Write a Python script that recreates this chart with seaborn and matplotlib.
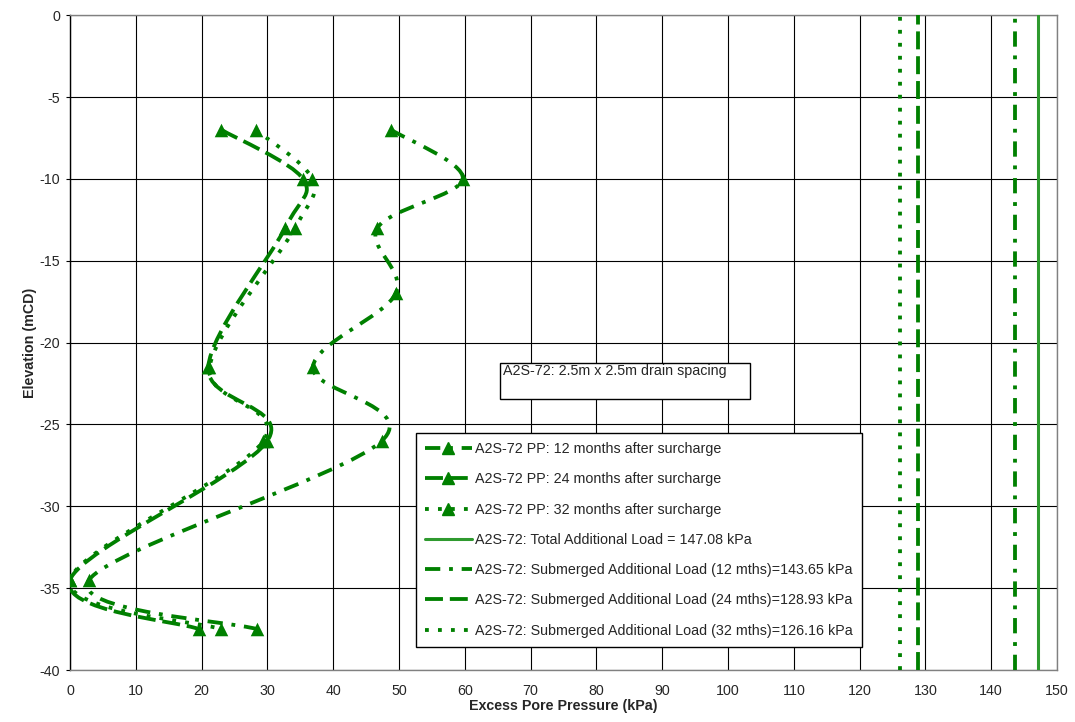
import numpy as np
import matplotlib
matplotlib.use('Agg')
import matplotlib.pyplot as plt
import seaborn as sns
from matplotlib.path import Path
from matplotlib.patches import PathPatch, Rectangle
from matplotlib.lines import Line2D

# 데이터
elev_12 = [-7, -10, -13, -17, -21.5, -26, -34.5, -37.5]
pp_12 = [48.8, 59.7, 46.7, 49.5, 36.9, 47.4, 2.9, 28.4]
elev_24 = [-7, -10, -13, -21.5, -26, -34.5, -37.5]
pp_24 = [23.0, 35.4, 32.7, 21.0, 30.0, 0.0, 19.6]
elev_32 = [-7, -10, -13, -21.5, -26, -34.5, -37.5]
pp_32 = [28.2, 36.8, 34.2, 21.2, 29.4, 0.0, 23.0]

load_total = 147.08
load_12 = 143.65
load_24 = 128.93
load_32 = 126.16

labels_pp = ['A2S-72 PP: 12 months after surcharge',
             'A2S-72 PP: 24 months after surcharge',
             'A2S-72 PP: 32 months after surcharge']
label_total = 'A2S-72: Total Additional Load = 147.08 kPa'
labels_sub = ['A2S-72: Submerged Additional Load (12 mths)=143.65 kPa',
              'A2S-72: Submerged Additional Load (24 mths)=128.93 kPa',
              'A2S-72: Submerged Additional Load (32 mths)=126.16 kPa']

sns.set_theme(style='white')
plt.rcParams['font.family'] = ['Liberation Sans', 'DejaVu Sans']
plt.rcParams['axes.unicode_minus'] = False  # 마이너스 기호를 하이픈으로

GREEN = '#008000'
LW = 2.75
dash_12 = (0, (4.0, 2.3, 1.0, 2.3))
dash_24 = (0, (4.7, 1.8))
dash_32 = (0, (1.0, 2.4))
FS = 10.3


def smooth_path(xs, ys):
    # 엑셀 스타일 부드러운 선 (베지어 곡선)
    pts = np.column_stack([xs, ys]).astype(float)
    n = len(pts)
    verts = [pts[0]]
    codes = [Path.MOVETO]
    for i in range(n - 1):
        p0 = pts[max(i - 1, 0)]
        p1 = pts[i]
        p2 = pts[i + 1]
        p3 = pts[min(i + 2, n - 1)]
        verts += [p1 + (p2 - p0) / 6, p2 - (p3 - p1) / 6, p2]
        codes += [Path.CURVE4] * 3
    return Path(verts, codes)


fig = plt.figure(figsize=(10.75, 7.22), dpi=100)
ax = fig.add_axes([0.0651, 0.072, 0.9182, 0.907])

series = [(pp_12, elev_12, dash_12), (pp_24, elev_24, dash_24), (pp_32, elev_32, dash_32)]
for xs, ys, ls in series:
    ax.add_patch(PathPatch(smooth_path(xs, ys), fill=False, edgecolor=GREEN,
                           lw=LW, linestyle=ls, zorder=3))
    sns.scatterplot(x=xs, y=ys, marker='^', s=95, color=GREEN, edgecolor=GREEN,
                    linewidth=0, ax=ax, zorder=4)

ax.axvline(load_total, color='#2f9a2f', lw=2.2, zorder=3)
ax.axvline(load_12, color=GREEN, lw=LW, linestyle=dash_12, zorder=3)
ax.axvline(load_24, color=GREEN, lw=LW, linestyle=dash_24, zorder=3)
ax.axvline(load_32, color=GREEN, lw=LW, linestyle=dash_32, zorder=3)

ax.set_xlim(0, 150)
ax.set_ylim(-40, 0)
ax.set_xticks(np.arange(0, 151, 10))
ax.set_yticks(np.arange(-40, 1, 5))
ax.grid(True, color='black', lw=0.8)
ax.set_axisbelow(True)
for side in ['top', 'right', 'bottom']:
    ax.spines[side].set_color('#808080')
ax.spines['left'].set_color('black')
for s in ax.spines.values():
    s.set_linewidth(1.0)
ax.tick_params(axis='x', length=0, pad=10, labelsize=FS)
ax.tick_params(axis='y', left=True, length=3, width=0.8, color='black', pad=4, labelsize=FS)

ax.set_xlabel('Excess Pore Pressure (kPa)', fontsize=FS, fontweight='bold', labelpad=1)
ax.set_ylabel('Elevation (mCD)', fontsize=FS, fontweight='bold', labelpad=2)

# 텍스트 상자
ax.add_patch(Rectangle((0.4357, (670 - 399) / 655), 250 / 987, 36 / 655,
                       transform=ax.transAxes, fill=True, facecolor='white',
                       edgecolor='black', lw=1, zorder=5))
ax.text((503 - 70) / 987, (670 - 371) / 655, 'A2S-72: 2.5m x 2.5m drain spacing',
        transform=ax.transAxes, fontsize=FS, va='center', ha='left', zorder=6)

handles = [
    Line2D([], [], color=GREEN, lw=LW, linestyle=dash_12, marker='^', ms=9),
    Line2D([], [], color=GREEN, lw=LW, linestyle=dash_24, marker='^', ms=9),
    Line2D([], [], color=GREEN, lw=LW, linestyle=dash_32, marker='^', ms=9),
    Line2D([], [], color='#2f9a2f', lw=2.2),
    Line2D([], [], color=GREEN, lw=LW, linestyle=dash_12),
    Line2D([], [], color=GREEN, lw=LW, linestyle=dash_24),
    Line2D([], [], color=GREEN, lw=LW, linestyle=dash_32),
]
leg = ax.legend(handles, labels_pp + [label_total] + labels_sub,
                loc='upper left', bbox_to_anchor=((416 - 70) / 987, (670 - 433) / 655),
                borderaxespad=0, fontsize=FS, frameon=True, fancybox=False,
                edgecolor='black', framealpha=1, handlelength=3.3, handletextpad=0.2,
                labelspacing=1.14, borderpad=0.62)
leg.get_frame().set_linewidth(1.0)
leg.set_zorder(7)

fig.savefig('out.png', dpi=100)
